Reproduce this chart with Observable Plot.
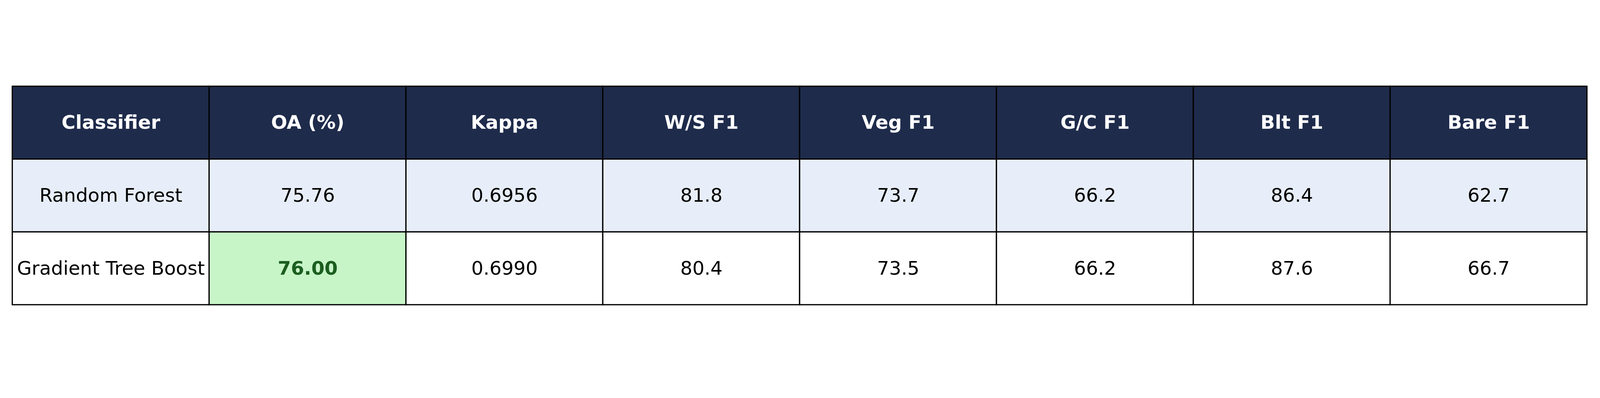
<!DOCTYPE html>
<html>
<head>
<meta charset="utf-8">
<script src="https://cdn.jsdelivr.net/npm/d3@7"></script>
<script src="https://cdn.jsdelivr.net/npm/@observablehq/plot@0.6"></script>
<style>
  html, body { margin: 0; padding: 0; background: #ffffff; }
  #chart svg { display: block; }
</style>
</head>
<body>
<div id="chart"></div>
<script>
const columns = ["Classifier", "OA (%)", "Kappa", "W/S F1", "Veg F1", "G/C F1", "Blt F1", "Bare F1"];
const classifiers = ["Random Forest", "Gradient Tree Boost"];
const oa = [75.76, 76.00];
const kappa = [0.6956, 0.6990];
const wsF1 = [81.8, 80.4];
const vegF1 = [73.7, 73.5];
const gcF1 = [66.2, 66.2];
const bltF1 = [86.4, 87.6];
const bareF1 = [62.7, 66.7];

// ---- build table cells ----
const headerKey = "__header__";
const rowKeys = [headerKey, ...classifiers];
const bestOA = d3.max(oa);

const cells = [];
columns.forEach((c) => cells.push({row: headerKey, col: c, label: c, kind: "header"}));
classifiers.forEach((name, i) => {
  const vals = [
    name,
    oa[i].toFixed(2),
    kappa[i].toFixed(4),
    wsF1[i].toFixed(1),
    vegF1[i].toFixed(1),
    gcF1[i].toFixed(1),
    bltF1[i].toFixed(1),
    bareF1[i].toFixed(1)
  ];
  columns.forEach((c, j) => {
    const best = j === 1 && oa[i] === bestOA;
    cells.push({row: name, col: c, label: vals[j], kind: best ? "best" : (i % 2 === 0 ? "odd" : "even")});
  });
});

const fills = {header: "#1e2b4b", odd: "#e8eef9", even: "#ffffff", best: "#c8f5c8"};
const fs = 49.5;

const chart = Plot.plot({
  width: 4170,
  height: 1020,
  marginLeft: 30,
  marginRight: 32,
  marginTop: 225,
  marginBottom: 225,
  style: {fontFamily: "'DejaVu Sans', sans-serif", background: "#ffffff", overflow: "visible"},
  x: {domain: columns, padding: 0, axis: null},
  y: {domain: rowKeys, padding: 0, axis: null},
  marks: [
    Plot.cell(cells, {
      x: "col", y: "row",
      fill: (d) => fills[d.kind],
      stroke: "#000000", strokeWidth: 3.2,
      inset: 0
    }),
    Plot.text(cells.filter((d) => d.kind === "header"), {
      x: "col", y: "row", text: "label",
      fill: "#ffffff", fontSize: fs, fontWeight: "bold"
    }),
    Plot.text(cells.filter((d) => d.kind === "odd" || d.kind === "even"), {
      x: "col", y: "row", text: "label",
      fill: "#000000", fontSize: fs
    }),
    Plot.text(cells.filter((d) => d.kind === "best"), {
      x: "col", y: "row", text: "label",
      fill: "#1b5e20", fontSize: fs, fontWeight: "bold"
    })
  ]
});
document.getElementById("chart").appendChild(chart);
</script>
</body>
</html>
